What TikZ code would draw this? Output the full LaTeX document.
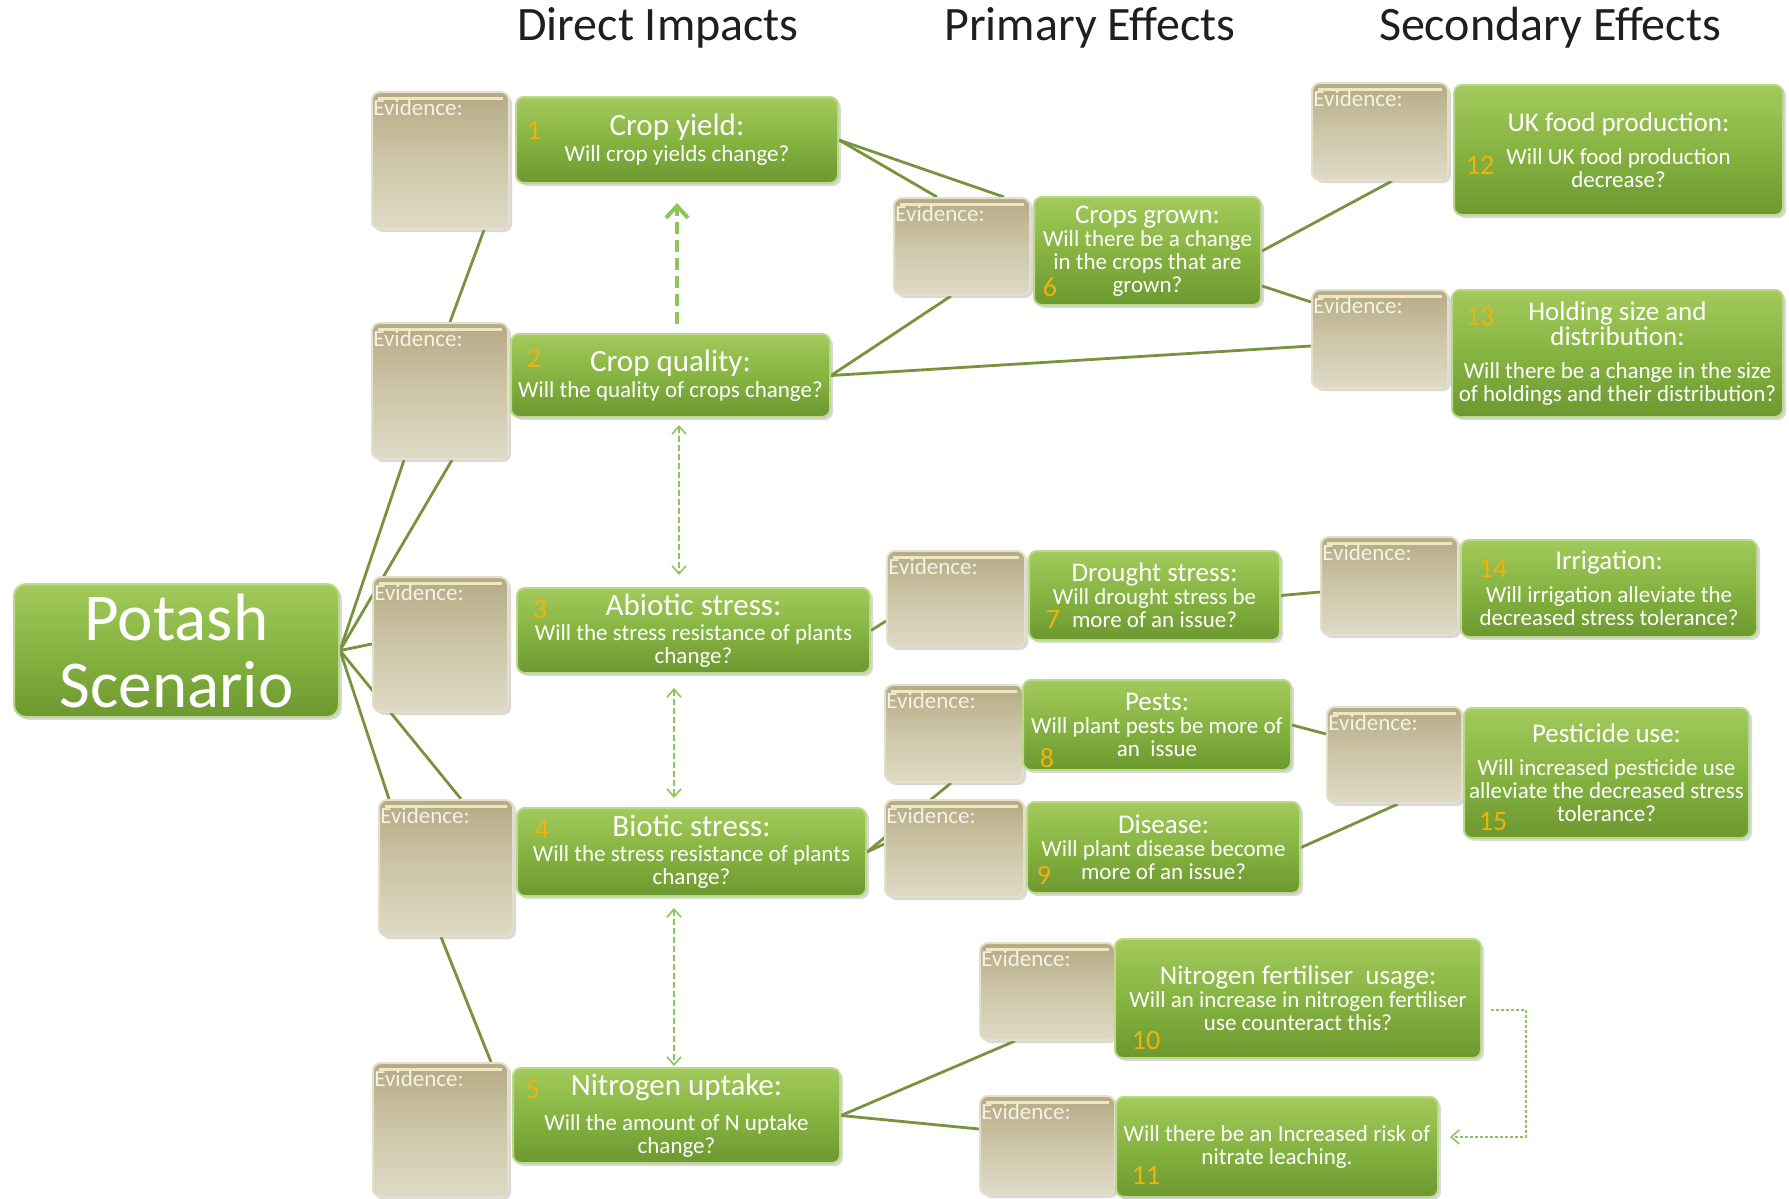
\documentclass[tikz,border=0pt]{standalone}
\usepackage{fontspec}
\setmainfont{Carlito}
\usetikzlibrary{calc,arrows.meta,shadows}
\pgfdeclarelayer{bg}
\pgfsetlayers{bg,main}
\definecolor{gtop}{HTML}{A2CA5C}
\definecolor{gmid}{HTML}{86B441}
\definecolor{gbot}{HTML}{6C9830}
\definecolor{gedge}{HTML}{BCD88C}
\definecolor{etop}{HTML}{B5AA84}
\definecolor{emid}{HTML}{CDC6A8}
\definecolor{ebot}{HTML}{DEDAC6}
\definecolor{eedge}{HTML}{E4DFCB}
\definecolor{estripe}{HTML}{EEE7BF}
\definecolor{connc}{HTML}{77933C}
\definecolor{dashc}{HTML}{8CC65A}
\definecolor{numc}{HTML}{F2B20C}
\definecolor{evtc}{HTML}{F5F2E6}
\definecolor{hdrc}{HTML}{1F1F1F}
\newcommand{\tA}{\fontsize{15.5}{16}\selectfont}
\newcommand{\tB}{\fontsize{13.5}{13.5}\selectfont}
\newcommand{\qq}{\fontsize{11.5}{11.5}\selectfont}
\tikzset{
  gbox/.style={draw=gedge, line width=1pt, rounded corners=4pt,
    top color=gtop, bottom color=gbot, middle color=gmid,
    text=white, align=center, inner sep=0pt, font=\qq,
    drop shadow={shadow xshift=1.5pt, shadow yshift=-1.5pt, opacity=0.3}},
  ebox/.style={draw=eedge, line width=1pt, rounded corners=4pt,
    top color=etop, bottom color=ebot, middle color=emid, inner sep=0pt,
    drop shadow={shadow xshift=1.5pt, shadow yshift=-1.5pt, opacity=0.3}},
  evtxt/.style={text=evtc, font=\fontsize{11.5}{12}\selectfont, inner sep=0pt, anchor=west},
  numtxt/.style={text=numc, font=\fontsize{14}{14}\selectfont, inner sep=0pt},
  hdr/.style={text=hdrc, font=\fontsize{24}{24}\selectfont, inner sep=0pt},
  cn/.style={draw=connc, line width=1.4pt},
  bigdash/.style={draw=dashc, line width=2pt, dash pattern=on 6pt off 3pt,
    -{Straight Barb[length=6pt,width=11pt,line width=2pt]}},
  thindash/.style={draw=dashc, line width=0.8pt, dash pattern=on 3pt off 1.5pt,
    {Straight Barb[length=4pt,width=7pt]}-{Straight Barb[length=4pt,width=7pt]}},
  dotdash/.style={draw=dashc, line width=0.8pt, dash pattern=on 1.5pt off 1pt,
    -{Straight Barb[length=4pt,width=7pt]}}
}
% green box: name x1 y1 x2 y2 text
\newcommand{\GB}[6]{\node[gbox, minimum width={(#4-#2)*0.5pt}, minimum height={(#5-#3)*0.5pt}] (#1) at ({(#2+#4)/2},{(#3+#5)/2}) {#6};}
% evidence box
\newcommand{\EV}[5]{\node[ebox, minimum width={(#4-#2)*0.5pt}, minimum height={(#5-#3)*0.5pt}] (#1) at ({(#2+#4)/2},{(#3+#5)/2}) {};
  \draw[estripe, line width=1.5pt] ([shift={(7,7)}]#1.north west) -- ([shift={(-7,7)}]#1.north east);
  \node[evtxt] (#1l) at ([shift={(2,17)}]#1.north west) {Evidence:};}
\begin{document}
\begin{tikzpicture}[x=0.5pt,y=-0.5pt]
\useasboundingbox (0,0) rectangle (1789,1199);
% headers
\node[hdr] (h1) at (658,28) {Direct Impacts};
\node[hdr] (h2) at (1090,28) {Primary Effects};
\node[hdr] (h3) at (1550,28) {Secondary Effects};
% potash
\node[gbox, rounded corners=6pt, font=\fontsize{33.5}{33.5}\selectfont, minimum width=162.5pt, minimum height=66.5pt] (P) at (176.5,650.5) {Potash\\Scenario};
% direct impacts
\EV{ev1}{372}{92}{509}{229}
\GB{g1}{516}{97}{838}{183}{{\tA Crop yield:}\\[1.5pt]Will crop yields change?}
\EV{ev2}{372}{323}{508}{459}
\GB{g2}{511}{334}{830}{417}{{\tA Crop quality:}\\[1.5pt]Will the quality of crops change?}
\EV{ev3}{373}{577}{508}{712}
\GB{g3}{517}{588}{870}{673}{{\tA Abiotic stress:}\\[1pt]Will the stress resistance of plants\\change?}
\EV{ev4}{379}{800}{513}{936}
\GB{g4}{517}{808}{866}{896}{{\tA Biotic stress:}\\[1pt]Will the stress resistance of plants\\change?}
\EV{ev5}{373}{1063}{508}{1197}
\GB{g5}{513}{1068}{840}{1163}{{\tA Nitrogen uptake:}\\[6pt]Will the amount of N uptake\\change?}
% primary effects
\EV{ev6}{894}{198}{1030}{295}
\GB{g6}{1034}{197}{1261}{305}{{\tB Crops grown:}\\Will there be a change\\in the crops that are\\grown?}
\EV{ev7}{887}{551}{1025}{647}
\GB{g7}{1029}{551}{1280}{640}{{\tB Drought stress:}\\Will drought stress be\\more of an issue?}
\EV{ev8}{885}{685}{1023}{782}
\GB{g8}{1023}{680}{1291}{770}{{\tB Pests:}\\Will plant pests be more of\\an\ \ issue}
\EV{ev9}{885}{800}{1024}{897}
\GB{g9}{1027}{802}{1300}{893}{{\tB Disease:}\\Will plant disease become\\more of an issue?}
\EV{ev10}{980}{943}{1115}{1040}
\GB{g10}{1115}{939}{1481}{1058}{{\tB Nitrogen fertiliser\ \ usage:}\\Will an increase in nitrogen fertiliser\\use counteract this?}
\EV{ev11}{980}{1096}{1115}{1195}
\GB{g11}{1116}{1097}{1438}{1197}{Will there be an Increased risk of\\nitrate leaching.}
% secondary effects
\EV{ev12}{1312}{83}{1448}{180}
\GB{g12}{1454}{85}{1783}{215}{{\tB UK food production:}\\[5pt]Will UK food production\\decrease?}
\EV{ev13}{1312}{290}{1448}{388}
\GB{g13}{1452}{290}{1783}{417}{{\tB Holding size and}\\{\tB distribution:}\\[5pt]Will there be a change in the size\\of holdings and their distribution?}
\EV{ev14}{1321}{537}{1458}{635}
\GB{g14}{1461}{540}{1757}{637}{{\tB Irrigation:}\\[5pt]Will irrigation alleviate the\\decreased stress tolerance?}
\EV{ev15}{1327}{707}{1462}{803}
\GB{g15}{1464}{708}{1749}{838}{{\tB Pesticide use:}\\[5pt]Will increased pesticide use\\alleviate the decreased stress\\tolerance?}
% numbers
\node[numtxt] (n1) at (534,130) {1};
\node[numtxt] (n2) at (534,358) {2};
\node[numtxt] (n3) at (540,610) {3};
\node[numtxt] (n4) at (542,830) {4};
\node[numtxt] (n5) at (533,1090) {5};
\node[numtxt] (n6) at (1050,287) {6};
\node[numtxt] (n7) at (1053,620) {7};
\node[numtxt] (n8) at (1047,758) {8};
\node[numtxt] (n9) at (1044,875) {9};
\node[numtxt] (n10) at (1146,1040) {10};
\node[numtxt] (n11) at (1146,1175) {11};
\node[numtxt] (n12) at (1480,165) {12};
\node[numtxt] (n13) at (1480,317) {13};
\node[numtxt] (n14) at (1493,568) {14};
\node[numtxt] (n15) at (1493,822) {15};
% connectors
\begin{pgfonlayer}{bg}
\draw[cn] ([shift={(113,0)}]ev1.south west) -- ([shift={(79,0)}]ev2.north west);
\draw[cn] (P.east) -- ([shift={(33,0)}]ev2.south west);
\draw[cn] (P.east) -- ([shift={(81,0)}]ev2.south west);
\draw[cn] (P.east) -- ([shift={(0,68)}]ev3.north west);
\draw[cn] (P.east) -- ([shift={(11,0)}]ev4.north west);
\draw[cn] (P.east) -- ([shift={(83,0)}]ev4.north west);
\draw[cn] ([shift={(63,0)}]ev4.south west) -- ([shift={(119,0)}]ev5.north west);
\draw[cn] (g1.east) -- ([shift={(44,0)}]ev6.north west);
\draw[cn] (g1.east) -- ([shift={(111,0)}]ev6.north west);
\draw[cn] (g2.east) -- ([shift={(58,0)}]ev6.south west);
\draw[cn] (g2.east) -- ([shift={(0,57)}]ev13.north west);
\draw[cn] (g6.east) -- ([shift={(81,0)}]ev12.south west);
\draw[cn] ([shift={(0,90)}]g6.north east) -- ([shift={(0,13)}]ev13.north west);
\draw[cn] (g3.east) -- ([shift={(0,71)}]ev7.north west);
\draw[cn] (g7.east) -- ([shift={(0,56)}]ev14.north west);
\draw[cn] (g4.east) -- ([shift={(67,0)}]ev8.south west);
\draw[cn] (g4.east) -- ([shift={(0,45)}]ev9.north west);
\draw[cn] (g8.east) -- ([shift={(0,28)}]ev15.north west);
\draw[cn] (g9.east) -- ([shift={(72,0)}]ev15.south west);
\draw[cn] (g5.east) -- ([shift={(36,0)}]ev10.south west);
\draw[cn] (g5.east) -- ([shift={(0,34)}]ev11.north west);
\end{pgfonlayer}
% dashed arrows
\draw[bigdash] ([shift={(6.5,-9)}]g2.north) -- ([shift={(0,19)}]g1.south);
\draw[thindash] ([shift={(8.5,7)}]g2.south) -- ([shift={(-14.5,-12)}]g3.north);
\draw[thindash] ([shift={(-19.5,14)}]g3.south) -- ([shift={(-17.5,-9)}]g4.north);
\draw[thindash] ([shift={(-17.5,11)}]g4.south) -- ([shift={(-2.5,-1)}]g5.north);
\draw[dotdash] ([shift={(9,11.5)}]g10.east) -- ++(35,0) |- ([shift={(11,-10)}]g11.east);
\end{tikzpicture}
\end{document}
